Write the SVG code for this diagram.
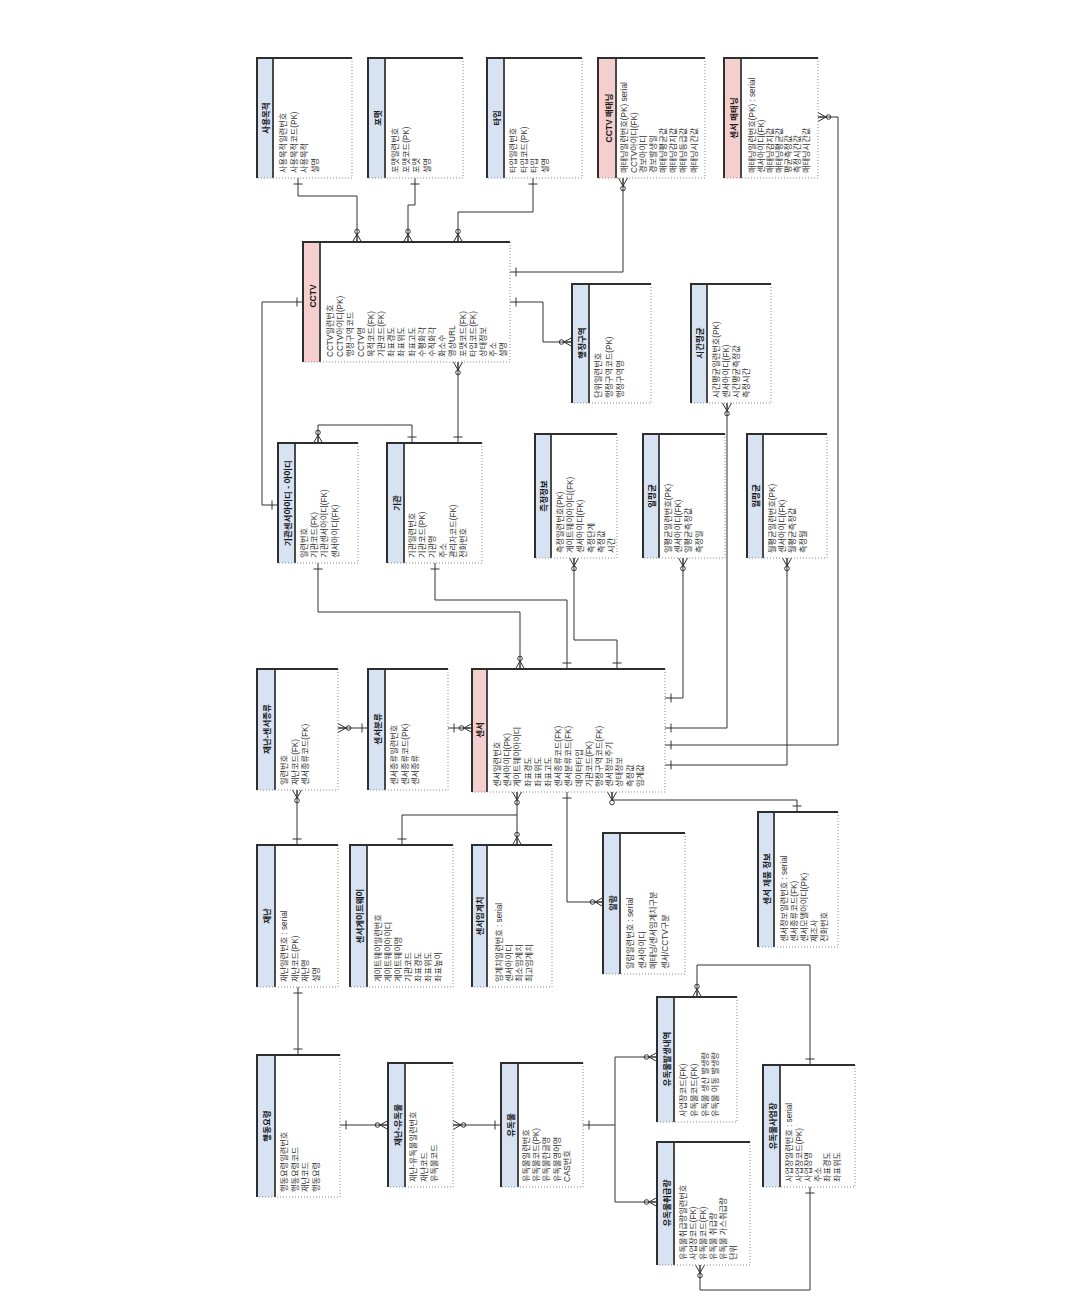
<svg xmlns="http://www.w3.org/2000/svg" width="1066" height="1304" viewBox="0 0 1066 1304">
<style>
.bg{fill:#fff}
.body{fill:#fff}
.hb{fill:#d7e2f3}
.hp{fill:#f5cece}
.sep{stroke:#4a4a4a;stroke-width:2}
.edge{fill:none;stroke:#2e2e2e;stroke-width:2}
.dot{fill:none;stroke:#8a8a8a;stroke-width:1;stroke-dasharray:1 2}
text{font-family:"Liberation Sans","Noto Sans CJK KR",sans-serif}
.ttl{font-size:8.5px;font-weight:bold;fill:#1a1a1a;text-anchor:middle}
.att{font-size:8.2px;fill:#333}
.cn path{fill:none;stroke:#333;stroke-width:1}
.mk{fill:none;stroke:#333;stroke-width:1}
</style>
<defs>
<marker id="one" markerUnits="userSpaceOnUse" orient="auto-start-reverse" refX="0" refY="0" markerWidth="20" markerHeight="20" viewBox="-15 -10 20 20" overflow="visible"><path class="mk" d="M-6,-4.5V4.5"/></marker>
<marker id="many" markerUnits="userSpaceOnUse" orient="auto-start-reverse" refX="0" refY="0" markerWidth="20" markerHeight="20" viewBox="-15 -10 20 20" overflow="visible"><path class="mk" d="M0,-4.5L-8,0L0,4.5M-8,0H0"/><circle class="mk" cx="-10.5" cy="0" r="2.3" fill="#fff"/></marker>
</defs>
<rect class="bg" x="0" y="0" width="1066" height="1304"/>

<g id="connectors" class="cn">
<path d="M298,178V196H357V242" marker-start="url(#one)" marker-end="url(#many)"/>
<path d="M415,178V205H408V242" marker-start="url(#one)" marker-end="url(#many)"/>
<path d="M533,178V212H458V242" marker-start="url(#one)" marker-end="url(#many)"/>
<path d="M623,178V272H510" marker-start="url(#many)" marker-end="url(#one)"/>
<path d="M510,302H543V342H572" marker-start="url(#one)" marker-end="url(#many)"/>
<path d="M458,362V443" marker-start="url(#many)" marker-end="url(#one)"/>
<path d="M318,443V425H412V443" marker-start="url(#many)" marker-end="url(#one)"/>
<path d="M303,302H262V505H278" marker-start="url(#one)" marker-end="url(#one)"/>
<path d="M318,563V612H520V669" marker-start="url(#one)" marker-end="url(#many)"/>
<path d="M435,563V600H567V669" marker-start="url(#one)" marker-end="url(#one)"/>
<path d="M574,558V640H617V669" marker-start="url(#many)" marker-end="url(#one)"/>
<path d="M683,558V698H665" marker-start="url(#many)" marker-end="url(#one)"/>
<path d="M727,403V728H665" marker-start="url(#many)" marker-end="url(#one)"/>
<path d="M787,558V765H665" marker-start="url(#many)" marker-end="url(#one)"/>
<path d="M818,117H838V745H665" marker-start="url(#many)" marker-end="url(#one)"/>
<path d="M338,728H368" marker-start="url(#many)" marker-end="url(#one)"/>
<path d="M448,728H472" marker-start="url(#one)" marker-end="url(#many)"/>
<path d="M297,790V845" marker-start="url(#many)" marker-end="url(#one)"/>
<path d="M517,792V845" marker-start="url(#many)" marker-end="url(#many)"/>
<path d="M402,845V815H517" marker-start="url(#one)"/>
<path d="M567,792V902H603" marker-start="url(#one)" marker-end="url(#many)"/>
<path d="M612,792V800H797V812" marker-start="url(#many)" marker-end="url(#one)"/>
<path d="M298,987V1055" marker-start="url(#one)" marker-end="url(#one)"/>
<path d="M340,1125H388" marker-start="url(#one)" marker-end="url(#many)"/>
<path d="M453,1125H501" marker-start="url(#many)" marker-end="url(#one)"/>
<path d="M583,1125H615V1057H657" marker-start="url(#one)" marker-end="url(#many)"/>
<path d="M615,1125V1202H657" marker-end="url(#many)"/>
<path d="M697,997V965H810V1065" marker-start="url(#many)" marker-end="url(#one)"/>
<path d="M700,1265V1290H810V1187" marker-start="url(#many)" marker-end="url(#one)"/>
</g>

<g id="e-purpose">
<rect class="body" x="257" y="58" width="95" height="120"/><rect class="hb" x="257" y="58" width="16" height="120"/>
<line class="sep" x1="273" y1="58" x2="273" y2="178"/><path class="dot" d="M352,58V178H257"/><path class="edge" d="M257,178V58H352"/>
<text class="ttl" transform="translate(269,118) rotate(-90)">사용목적</text>
<text class="att" transform="translate(286,173) rotate(-90)">사용목적일련번호</text>
<text class="att" transform="translate(296.5,173) rotate(-90)">사용목적코드(PK)</text>
<text class="att" transform="translate(307,173) rotate(-90)">사용목적</text>
<text class="att" transform="translate(317.5,173) rotate(-90)">설명</text>
</g>

<g id="e-format">
<rect class="body" x="368" y="58" width="95" height="120"/><rect class="hb" x="368" y="58" width="17" height="120"/>
<line class="sep" x1="385" y1="58" x2="385" y2="178"/><path class="dot" d="M463,58V178H368"/><path class="edge" d="M368,178V58H463"/>
<text class="ttl" transform="translate(381,118) rotate(-90)">포맷</text>
<text class="att" transform="translate(398,173) rotate(-90)">포맷일련번호</text>
<text class="att" transform="translate(408.5,173) rotate(-90)">포맷코드(PK)</text>
<text class="att" transform="translate(419,173) rotate(-90)">포맷</text>
<text class="att" transform="translate(429.5,173) rotate(-90)">설명</text>
</g>

<g id="e-type">
<rect class="body" x="487" y="58" width="95" height="120"/><rect class="hb" x="487" y="58" width="17" height="120"/>
<line class="sep" x1="504" y1="58" x2="504" y2="178"/><path class="dot" d="M582,58V178H487"/><path class="edge" d="M487,178V58H582"/>
<text class="ttl" transform="translate(500,118) rotate(-90)">타입</text>
<text class="att" transform="translate(516,173) rotate(-90)">타입일련번호</text>
<text class="att" transform="translate(526.5,173) rotate(-90)">타입코드(PK)</text>
<text class="att" transform="translate(537,173) rotate(-90)">타입</text>
<text class="att" transform="translate(547.5,173) rotate(-90)">설명</text>
</g>

<g id="e-cctv-mon">
<rect class="body" x="598" y="58" width="107" height="120"/><rect class="hp" x="598" y="58" width="18" height="120"/>
<line class="sep" x1="616" y1="58" x2="616" y2="178"/><path class="dot" d="M705,58V178H598"/><path class="edge" d="M598,178V58H705"/>
<text class="ttl" transform="translate(612,118) rotate(-90)">CCTV 매태닝</text>
<text class="att" transform="translate(627,173) rotate(-90)">매태닝일련번호(PK) serial</text>
<text class="att" transform="translate(636.5,173) rotate(-90)">CCTV아이디(FK)</text>
<text class="att" transform="translate(646,173) rotate(-90)">경보아이디</text>
<text class="att" transform="translate(656,173) rotate(-90)">경보발생일</text>
<text class="att" transform="translate(666,173) rotate(-90)">매태닝평균값</text>
<text class="att" transform="translate(676,173) rotate(-90)">매태닝감지값</text>
<text class="att" transform="translate(686,173) rotate(-90)">매태닝등급값</text>
<text class="att" transform="translate(697,173) rotate(-90)">매태닝시간값</text>
</g>

<g id="e-sensor-mon">
<rect class="body" x="724" y="58" width="94" height="120"/><rect class="hp" x="724" y="58" width="17" height="120"/>
<line class="sep" x1="741" y1="58" x2="741" y2="178"/><path class="dot" d="M818,58V178H724"/><path class="edge" d="M724,178V58H818"/>
<text class="ttl" transform="translate(737,118) rotate(-90)">센서 매태닝</text>
<text class="att" transform="translate(755,173) rotate(-90)">매태닝일련번호(PK) : serial</text>
<text class="att" transform="translate(764,173) rotate(-90)">센서아이디(FK)</text>
<text class="att" transform="translate(773,173) rotate(-90)">매태닝감지값</text>
<text class="att" transform="translate(782,173) rotate(-90)">매태닝평균값</text>
<text class="att" transform="translate(791,173) rotate(-90)">평균측정값</text>
<text class="att" transform="translate(800,173) rotate(-90)">측정시간값</text>
<text class="att" transform="translate(809,173) rotate(-90)">매태닝시간값</text>
</g>

<g id="e-cctv">
<rect class="body" x="303" y="242" width="207" height="120"/><rect class="hp" x="303" y="242" width="17" height="120"/>
<line class="sep" x1="320" y1="242" x2="320" y2="362"/><path class="dot" d="M510,242V362H303"/><path class="edge" d="M303,362V242H510"/>
<text class="ttl" transform="translate(316,296) rotate(-90)">CCTV</text>
<text class="att" transform="translate(333,357) rotate(-90)">CCTV일련번호</text>
<text class="att" transform="translate(343.2,357) rotate(-90)">CCTV아이디(PK)</text>
<text class="att" transform="translate(353.4,357) rotate(-90)">행정구역코드</text>
<text class="att" transform="translate(363.6,357) rotate(-90)">CCTV명</text>
<text class="att" transform="translate(373.8,357) rotate(-90)">목적코드(FK)</text>
<text class="att" transform="translate(384,357) rotate(-90)">기관코드(FK)</text>
<text class="att" transform="translate(394.2,357) rotate(-90)">좌표경도</text>
<text class="att" transform="translate(404.4,357) rotate(-90)">좌표위도</text>
<text class="att" transform="translate(414.6,357) rotate(-90)">좌표고도</text>
<text class="att" transform="translate(424.8,357) rotate(-90)">수평화각</text>
<text class="att" transform="translate(435,357) rotate(-90)">수직화각</text>
<text class="att" transform="translate(445.2,357) rotate(-90)">화소수</text>
<text class="att" transform="translate(455.4,357) rotate(-90)">영상URL</text>
<text class="att" transform="translate(465.6,357) rotate(-90)">포맷코드(FK)</text>
<text class="att" transform="translate(475.8,357) rotate(-90)">타입코드(FK)</text>
<text class="att" transform="translate(486,357) rotate(-90)">상태정보</text>
<text class="att" transform="translate(496.2,357) rotate(-90)">주소</text>
<text class="att" transform="translate(506.4,357) rotate(-90)">설명</text>
</g>

<g id="e-admin">
<rect class="body" x="572" y="284" width="79" height="119"/><rect class="hb" x="572" y="284" width="17" height="119"/>
<line class="sep" x1="589" y1="284" x2="589" y2="403"/><path class="dot" d="M651,284V403H572"/><path class="edge" d="M572,403V284H651"/>
<text class="ttl" transform="translate(585,343) rotate(-90)">행정구역</text>
<text class="att" transform="translate(601,398) rotate(-90)">단위일련번호</text>
<text class="att" transform="translate(612,398) rotate(-90)">행정구역코드(PK)</text>
<text class="att" transform="translate(623,398) rotate(-90)">행정구역명</text>
</g>

<g id="e-hour">
<rect class="body" x="691" y="284" width="80" height="119"/><rect class="hb" x="691" y="284" width="16" height="119"/>
<line class="sep" x1="707" y1="284" x2="707" y2="403"/><path class="dot" d="M771,284V403H691"/><path class="edge" d="M691,403V284H771"/>
<text class="ttl" transform="translate(703,343) rotate(-90)">시간평균</text>
<text class="att" transform="translate(719,398) rotate(-90)">시간평균일련번호(PK)</text>
<text class="att" transform="translate(729,398) rotate(-90)">센서아이디(FK)</text>
<text class="att" transform="translate(739,398) rotate(-90)">시간평균측정값</text>
<text class="att" transform="translate(749,398) rotate(-90)">측정시간</text>
</g>

<g id="e-orgsensor">
<rect class="body" x="278" y="443" width="80" height="120"/><rect class="hb" x="278" y="443" width="17" height="120"/>
<line class="sep" x1="295" y1="443" x2="295" y2="563"/><path class="dot" d="M358,443V563H278"/><path class="edge" d="M278,563V443H358"/>
<text class="ttl" transform="translate(291,503) rotate(-90)">기관센서아이디 - 아이디</text>
<text class="att" transform="translate(307,558) rotate(-90)">일련번호</text>
<text class="att" transform="translate(317.2,558) rotate(-90)">기관코드(FK)</text>
<text class="att" transform="translate(327.4,558) rotate(-90)">기관센서아이디(FK)</text>
<text class="att" transform="translate(337.6,558) rotate(-90)">센서아이디(FK)</text>
</g>

<g id="e-org">
<rect class="body" x="387" y="443" width="95" height="120"/><rect class="hb" x="387" y="443" width="17" height="120"/>
<line class="sep" x1="404" y1="443" x2="404" y2="563"/><path class="dot" d="M482,443V563H387"/><path class="edge" d="M387,563V443H482"/>
<text class="ttl" transform="translate(400,503) rotate(-90)">기관</text>
<text class="att" transform="translate(415,558) rotate(-90)">기관일련번호</text>
<text class="att" transform="translate(425.2,558) rotate(-90)">기관코드(PK)</text>
<text class="att" transform="translate(435.4,558) rotate(-90)">기관명</text>
<text class="att" transform="translate(445.6,558) rotate(-90)">주소</text>
<text class="att" transform="translate(455.8,558) rotate(-90)">관리자코드(FK)</text>
<text class="att" transform="translate(466,558) rotate(-90)">전화번호</text>
</g>

<g id="e-measure">
<rect class="body" x="535" y="434" width="82" height="124"/><rect class="hb" x="535" y="434" width="16" height="124"/>
<line class="sep" x1="551" y1="434" x2="551" y2="558"/><path class="dot" d="M617,434V558H535"/><path class="edge" d="M535,558V434H617"/>
<text class="ttl" transform="translate(547,496) rotate(-90)">측정정보</text>
<text class="att" transform="translate(563,553) rotate(-90)">측정일련번호(PK)</text>
<text class="att" transform="translate(573.2,553) rotate(-90)">게이트웨이아이디(FK)</text>
<text class="att" transform="translate(583.4,553) rotate(-90)">센서아이디(FK)</text>
<text class="att" transform="translate(593.6,553) rotate(-90)">측정단계</text>
<text class="att" transform="translate(603.8,553) rotate(-90)">측정값</text>
<text class="att" transform="translate(614,553) rotate(-90)">시간</text>
</g>

<g id="e-day">
<rect class="body" x="643" y="434" width="82" height="124"/><rect class="hb" x="643" y="434" width="16" height="124"/>
<line class="sep" x1="659" y1="434" x2="659" y2="558"/><path class="dot" d="M725,434V558H643"/><path class="edge" d="M643,558V434H725"/>
<text class="ttl" transform="translate(655,496) rotate(-90)">일평균</text>
<text class="att" transform="translate(671,553) rotate(-90)">일평균일련번호(PK)</text>
<text class="att" transform="translate(681.2,553) rotate(-90)">센서아이디(FK)</text>
<text class="att" transform="translate(691.4,553) rotate(-90)">일평균측정값</text>
<text class="att" transform="translate(701.6,553) rotate(-90)">측정일</text>
</g>

<g id="e-month">
<rect class="body" x="747" y="434" width="80" height="124"/><rect class="hb" x="747" y="434" width="16" height="124"/>
<line class="sep" x1="763" y1="434" x2="763" y2="558"/><path class="dot" d="M827,434V558H747"/><path class="edge" d="M747,558V434H827"/>
<text class="ttl" transform="translate(759,496) rotate(-90)">월평균</text>
<text class="att" transform="translate(775,553) rotate(-90)">월평균일련번호(PK)</text>
<text class="att" transform="translate(785.2,553) rotate(-90)">센서아이디(FK)</text>
<text class="att" transform="translate(795.4,553) rotate(-90)">월평균측정값</text>
<text class="att" transform="translate(805.6,553) rotate(-90)">측정월</text>
</g>

<g id="e-disaster-sensortype">
<rect class="body" x="257" y="669" width="81" height="121"/><rect class="hb" x="257" y="669" width="18" height="121"/>
<line class="sep" x1="275" y1="669" x2="275" y2="790"/><path class="dot" d="M338,669V790H257"/><path class="edge" d="M257,790V669H338"/>
<text class="ttl" transform="translate(270,729) rotate(-90)">재난-센서종류</text>
<text class="att" transform="translate(287,785) rotate(-90)">일련번호</text>
<text class="att" transform="translate(297.5,785) rotate(-90)">재난코드(FK)</text>
<text class="att" transform="translate(308,785) rotate(-90)">센서종류코드(FK)</text>
</g>

<g id="e-sensorclass">
<rect class="body" x="368" y="669" width="80" height="121"/><rect class="hb" x="368" y="669" width="17" height="121"/>
<line class="sep" x1="385" y1="669" x2="385" y2="790"/><path class="dot" d="M448,669V790H368"/><path class="edge" d="M368,790V669H448"/>
<text class="ttl" transform="translate(381,729) rotate(-90)">센서분류</text>
<text class="att" transform="translate(397,785) rotate(-90)">센서종류일련번호</text>
<text class="att" transform="translate(407.5,785) rotate(-90)">센서종류코드(PK)</text>
<text class="att" transform="translate(418,785) rotate(-90)">센서종류</text>
</g>

<g id="e-sensor">
<rect class="body" x="472" y="669" width="193" height="123"/><rect class="hp" x="472" y="669" width="15" height="123"/>
<line class="sep" x1="487" y1="669" x2="487" y2="792"/><path class="dot" d="M665,669V792H472"/><path class="edge" d="M472,792V669H665"/>
<text class="ttl" transform="translate(483,730) rotate(-90)">센서</text>
<text class="att" transform="translate(500,787) rotate(-90)">센서일련번호</text>
<text class="att" transform="translate(510.2,787) rotate(-90)">센서아이디(PK)</text>
<text class="att" transform="translate(520.4,787) rotate(-90)">게이트웨이아이디</text>
<text class="att" transform="translate(530.6,787) rotate(-90)">좌표경도</text>
<text class="att" transform="translate(540.8,787) rotate(-90)">좌표위도</text>
<text class="att" transform="translate(551,787) rotate(-90)">좌표고도</text>
<text class="att" transform="translate(561.2,787) rotate(-90)">센서종류코드(FK)</text>
<text class="att" transform="translate(571.4,787) rotate(-90)">센서분류코드(FK)</text>
<text class="att" transform="translate(581.6,787) rotate(-90)">데이터타입</text>
<text class="att" transform="translate(591.8,787) rotate(-90)">기관코드(FK)</text>
<text class="att" transform="translate(602,787) rotate(-90)">행정구역코드(FK)</text>
<text class="att" transform="translate(612.2,787) rotate(-90)">센서정보주기</text>
<text class="att" transform="translate(622.4,787) rotate(-90)">상태정보</text>
<text class="att" transform="translate(632.6,787) rotate(-90)">측정값</text>
<text class="att" transform="translate(642.8,787) rotate(-90)">임계값</text>
</g>

<g id="e-disaster">
<rect class="body" x="257" y="845" width="81" height="142"/><rect class="hb" x="257" y="845" width="18" height="142"/>
<line class="sep" x1="275" y1="845" x2="275" y2="987"/><path class="dot" d="M338,845V987H257"/><path class="edge" d="M257,987V845H338"/>
<text class="ttl" transform="translate(270,916) rotate(-90)">재난</text>
<text class="att" transform="translate(287,982) rotate(-90)">재난일련번호 : serial</text>
<text class="att" transform="translate(297.5,982) rotate(-90)">재난코드(PK)</text>
<text class="att" transform="translate(308,982) rotate(-90)">재난명</text>
<text class="att" transform="translate(318.5,982) rotate(-90)">설명</text>
</g>

<g id="e-gateway">
<rect class="body" x="350" y="845" width="103" height="142"/><rect class="hb" x="350" y="845" width="17" height="142"/>
<line class="sep" x1="367" y1="845" x2="367" y2="987"/><path class="dot" d="M453,845V987H350"/><path class="edge" d="M350,987V845H453"/>
<text class="ttl" transform="translate(363,916) rotate(-90)">센서게이트웨이</text>
<text class="att" transform="translate(381,982) rotate(-90)">게이트웨이일련번호</text>
<text class="att" transform="translate(391,982) rotate(-90)">게이트웨이아이디</text>
<text class="att" transform="translate(401,982) rotate(-90)">게이트웨이명</text>
<text class="att" transform="translate(411,982) rotate(-90)">기관코드</text>
<text class="att" transform="translate(421,982) rotate(-90)">좌표경도</text>
<text class="att" transform="translate(431,982) rotate(-90)">좌표위도</text>
<text class="att" transform="translate(441,982) rotate(-90)">좌표높이</text>
</g>

<g id="e-threshold">
<rect class="body" x="472" y="845" width="80" height="142"/><rect class="hb" x="472" y="845" width="15" height="142"/>
<line class="sep" x1="487" y1="845" x2="487" y2="987"/><path class="dot" d="M552,845V987H472"/><path class="edge" d="M472,987V845H552"/>
<text class="ttl" transform="translate(483,916) rotate(-90)">센서임계치</text>
<text class="att" transform="translate(502,982) rotate(-90)">임계치일련번호 : serial</text>
<text class="att" transform="translate(512,982) rotate(-90)">센서아이디</text>
<text class="att" transform="translate(522,982) rotate(-90)">최소임계치</text>
<text class="att" transform="translate(532,982) rotate(-90)">최고임계치</text>
</g>

<g id="e-alarm">
<rect class="body" x="603" y="833" width="82" height="141"/><rect class="hb" x="603" y="833" width="17" height="141"/>
<line class="sep" x1="620" y1="833" x2="620" y2="974"/><path class="dot" d="M685,833V974H603"/><path class="edge" d="M603,974V833H685"/>
<text class="ttl" transform="translate(616,903) rotate(-90)">알람</text>
<text class="att" transform="translate(633,969) rotate(-90)">알람일련번호 : serial</text>
<text class="att" transform="translate(644.5,969) rotate(-90)">센서아이디</text>
<text class="att" transform="translate(656,969) rotate(-90)">매태닝/센서임계치구분</text>
<text class="att" transform="translate(667.5,969) rotate(-90)">센서/CCTV구분</text>
</g>

<g id="e-product">
<rect class="body" x="758" y="812" width="80" height="135"/><rect class="hb" x="758" y="812" width="16" height="135"/>
<line class="sep" x1="774" y1="812" x2="774" y2="947"/><path class="dot" d="M838,812V947H758"/><path class="edge" d="M758,947V812H838"/>
<text class="ttl" transform="translate(770,879) rotate(-90)">센서 제품 정보</text>
<text class="att" transform="translate(787,942) rotate(-90)">센서정보일련번호 : serial</text>
<text class="att" transform="translate(797,942) rotate(-90)">센서종류코드(FK)</text>
<text class="att" transform="translate(807,942) rotate(-90)">센서모델아이디(PK)</text>
<text class="att" transform="translate(817,942) rotate(-90)">제조사</text>
<text class="att" transform="translate(827,942) rotate(-90)">전화번호</text>
</g>

<g id="e-guide">
<rect class="body" x="257" y="1055" width="83" height="142"/><rect class="hb" x="257" y="1055" width="18" height="142"/>
<line class="sep" x1="275" y1="1055" x2="275" y2="1197"/><path class="dot" d="M340,1055V1197H257"/><path class="edge" d="M257,1197V1055H340"/>
<text class="ttl" transform="translate(270,1126) rotate(-90)">행동요령</text>
<text class="att" transform="translate(287,1192) rotate(-90)">행동요령일련번호</text>
<text class="att" transform="translate(297.5,1192) rotate(-90)">행동요령코드</text>
<text class="att" transform="translate(308,1192) rotate(-90)">재난코드</text>
<text class="att" transform="translate(318.5,1192) rotate(-90)">행동요령</text>
</g>

<g id="e-disaster-toxic">
<rect class="body" x="388" y="1063" width="65" height="124"/><rect class="hb" x="388" y="1063" width="17" height="124"/>
<line class="sep" x1="405" y1="1063" x2="405" y2="1187"/><path class="dot" d="M453,1063V1187H388"/><path class="edge" d="M388,1187V1063H453"/>
<text class="ttl" transform="translate(401,1125) rotate(-90)">재난-유독물</text>
<text class="att" transform="translate(416,1182) rotate(-90)">재난-유독물일련번호</text>
<text class="att" transform="translate(426.5,1182) rotate(-90)">재난코드</text>
<text class="att" transform="translate(437,1182) rotate(-90)">유독물코드</text>
</g>

<g id="e-toxic">
<rect class="body" x="501" y="1063" width="82" height="124"/><rect class="hb" x="501" y="1063" width="17" height="124"/>
<line class="sep" x1="518" y1="1063" x2="518" y2="1187"/><path class="dot" d="M583,1063V1187H501"/><path class="edge" d="M501,1187V1063H583"/>
<text class="ttl" transform="translate(514,1125) rotate(-90)">유독물</text>
<text class="att" transform="translate(529,1182) rotate(-90)">유독물일련번호</text>
<text class="att" transform="translate(539.2,1182) rotate(-90)">유독물코드(PK)</text>
<text class="att" transform="translate(549.4,1182) rotate(-90)">유독물한글명</text>
<text class="att" transform="translate(559.6,1182) rotate(-90)">유독물영어명</text>
<text class="att" transform="translate(569.8,1182) rotate(-90)">CAS번호</text>
</g>

<g id="e-toxic-occur">
<rect class="body" x="657" y="997" width="80" height="125"/><rect class="hb" x="657" y="997" width="17" height="125"/>
<line class="sep" x1="674" y1="997" x2="674" y2="1122"/><path class="dot" d="M737,997V1122H657"/><path class="edge" d="M657,1122V997H737"/>
<text class="ttl" transform="translate(670,1059) rotate(-90)">유독물발생내역</text>
<text class="att" transform="translate(686,1117) rotate(-90)">사업장코드(FK)</text>
<text class="att" transform="translate(697,1117) rotate(-90)">유독물코드(FK)</text>
<text class="att" transform="translate(708,1117) rotate(-90)">유독물 생산 발생량</text>
<text class="att" transform="translate(718,1117) rotate(-90)">유독물 이동 발생량</text>
</g>

<g id="e-toxic-handle">
<rect class="body" x="657" y="1142" width="93" height="123"/><rect class="hb" x="657" y="1142" width="17" height="123"/>
<line class="sep" x1="674" y1="1142" x2="674" y2="1265"/><path class="dot" d="M750,1142V1265H657"/><path class="edge" d="M657,1265V1142H750"/>
<text class="ttl" transform="translate(670,1203) rotate(-90)">유독물취급량</text>
<text class="att" transform="translate(686,1260) rotate(-90)">유독물취급량일련번호</text>
<text class="att" transform="translate(696,1260) rotate(-90)">사업장코드(FK)</text>
<text class="att" transform="translate(706,1260) rotate(-90)">유독물코드(FK)</text>
<text class="att" transform="translate(716,1260) rotate(-90)">유독물 취급량</text>
<text class="att" transform="translate(726,1260) rotate(-90)">유독물 가스취급량</text>
<text class="att" transform="translate(736,1260) rotate(-90)">단위</text>
</g>

<g id="e-toxic-site">
<rect class="body" x="763" y="1065" width="92" height="122"/><rect class="hb" x="763" y="1065" width="17" height="122"/>
<line class="sep" x1="780" y1="1065" x2="780" y2="1187"/><path class="dot" d="M855,1065V1187H763"/><path class="edge" d="M763,1187V1065H855"/>
<text class="ttl" transform="translate(776,1126) rotate(-90)">유독물사업장</text>
<text class="att" transform="translate(792,1182) rotate(-90)">사업장일련번호 : serial</text>
<text class="att" transform="translate(801.5,1182) rotate(-90)">사업장코드(PK)</text>
<text class="att" transform="translate(811,1182) rotate(-90)">사업장명</text>
<text class="att" transform="translate(820.5,1182) rotate(-90)">주소</text>
<text class="att" transform="translate(830,1182) rotate(-90)">좌표경도</text>
<text class="att" transform="translate(839.5,1182) rotate(-90)">좌표위도</text>
</g>
</svg>
